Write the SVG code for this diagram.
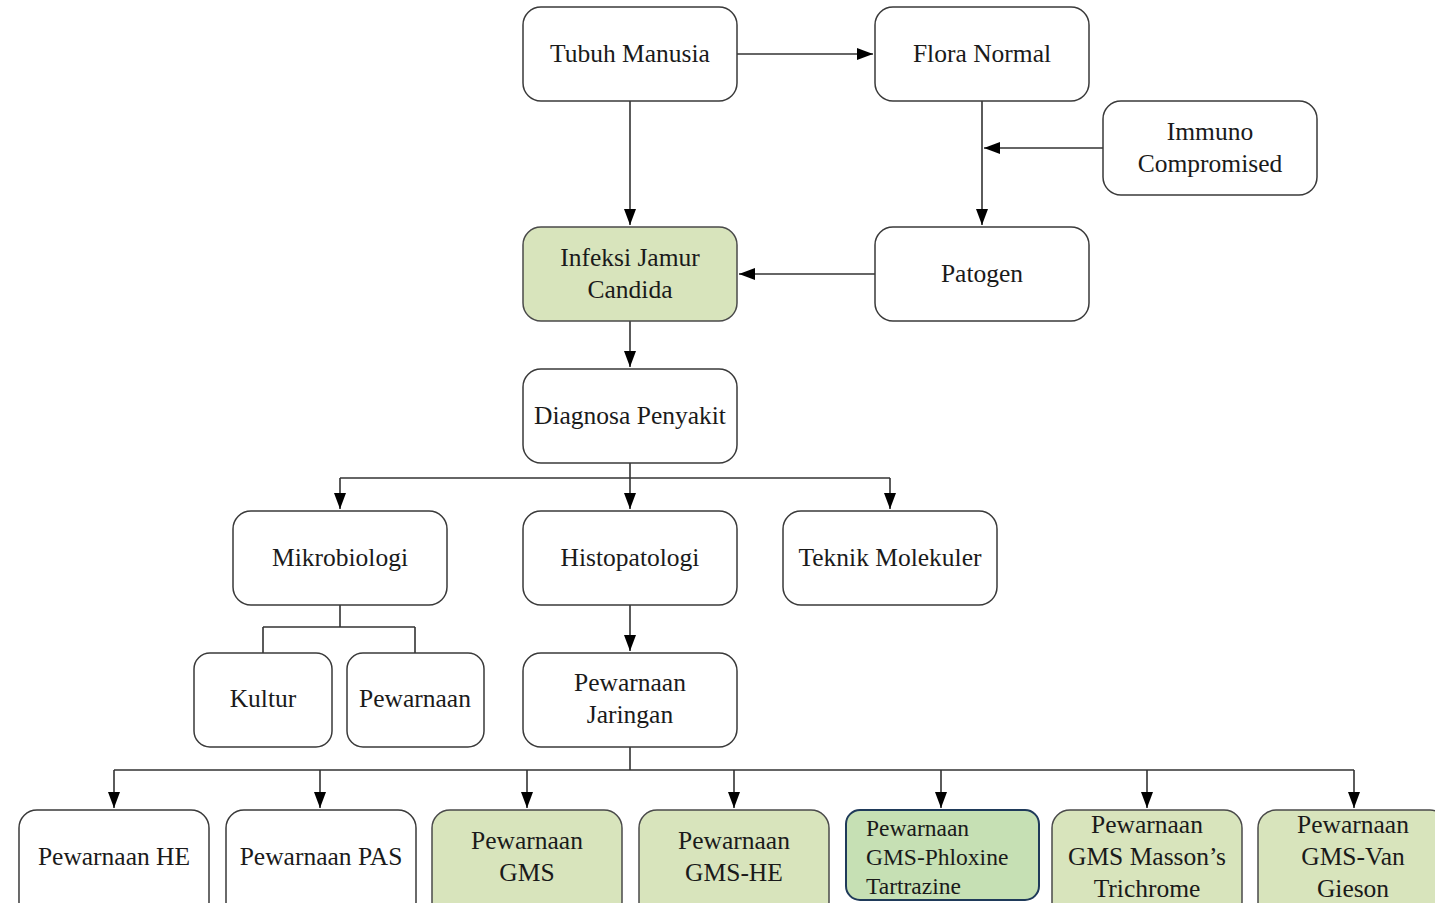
<svg xmlns="http://www.w3.org/2000/svg" width="1435" height="903" viewBox="0 0 1435 903">
<style>
.n{fill:#ffffff;stroke:#3a3a3a;stroke-width:1.5}
.g{fill:#d8e4bc;stroke:#4a4a4a;stroke-width:1.5}
.b{fill:#c6e0b4;stroke:#1f3a5a;stroke-width:2}
text{font-size:25.5px;fill:#1a1a1a;text-anchor:middle}
.l{text-anchor:start}
.c{fill:none;stroke:#333;stroke-width:1.6}
</style>
<defs>
<marker id="a" viewBox="0 0 16 12" refX="16" refY="6" markerWidth="16" markerHeight="12" markerUnits="userSpaceOnUse" orient="auto">
<path d="M0,0 L16,6 L0,12 Z" fill="#000"/>
</marker>
</defs>
<rect width="1435" height="903" fill="#fff"/>
<g id="connectors">
<path class="c" d="M737,54 H873" marker-end="url(#a)"/>
<path class="c" d="M630,101 V225" marker-end="url(#a)"/>
<path class="c" d="M982,101 V225" marker-end="url(#a)"/>
<path class="c" d="M1103,148 H984" marker-end="url(#a)"/>
<path class="c" d="M875,274 H739" marker-end="url(#a)"/>
<path class="c" d="M630,321 V367" marker-end="url(#a)"/>
<path class="c" d="M630,463 V478"/>
<path class="c" d="M340,478 H890"/>
<path class="c" d="M340,478 V509" marker-end="url(#a)"/>
<path class="c" d="M630,478 V509" marker-end="url(#a)"/>
<path class="c" d="M890,478 V509" marker-end="url(#a)"/>
<path class="c" d="M340,605 V627 M263,627 H415 M263,627 V653 M415,627 V653"/>
<path class="c" d="M630,605 V651" marker-end="url(#a)"/>
<path class="c" d="M630,747 V770 M114,770 H1354"/>
<path class="c" d="M114,770 V808" marker-end="url(#a)"/>
<path class="c" d="M320,770 V808" marker-end="url(#a)"/>
<path class="c" d="M527,770 V808" marker-end="url(#a)"/>
<path class="c" d="M734,770 V808" marker-end="url(#a)"/>
<path class="c" d="M941,770 V808" marker-end="url(#a)"/>
<path class="c" d="M1147,770 V808" marker-end="url(#a)"/>
<path class="c" d="M1354,770 V808" marker-end="url(#a)"/>
</g>
<g font-family="'Liberation Serif', serif">
<g id="tubuh"><rect class="n" x="523" y="7" width="214" height="94" rx="18"/><text x="630" y="62">Tubuh Manusia</text></g>
<g id="flora"><rect class="n" x="875" y="7" width="214" height="94" rx="18"/><text x="982" y="62">Flora Normal</text></g>
<g id="immuno"><rect class="n" x="1103" y="101" width="214" height="94" rx="18"/><text x="1210" y="140">Immuno</text><text x="1210" y="172">Compromised</text></g>
<g id="infeksi"><rect class="g" x="523" y="227" width="214" height="94" rx="18"/><text x="630" y="266">Infeksi Jamur</text><text x="630" y="298">Candida</text></g>
<g id="patogen"><rect class="n" x="875" y="227" width="214" height="94" rx="18"/><text x="982" y="282">Patogen</text></g>
<g id="diagnosa"><rect class="n" x="523" y="369" width="214" height="94" rx="18"/><text x="630" y="424">Diagnosa Penyakit</text></g>
<g id="mikro"><rect class="n" x="233" y="511" width="214" height="94" rx="18"/><text x="340" y="566">Mikrobiologi</text></g>
<g id="histo"><rect class="n" x="523" y="511" width="214" height="94" rx="18"/><text x="630" y="566">Histopatologi</text></g>
<g id="teknik"><rect class="n" x="783" y="511" width="214" height="94" rx="18"/><text x="890" y="566">Teknik Molekuler</text></g>
<g id="kultur"><rect class="n" x="194" y="653" width="138" height="94" rx="16"/><text x="263" y="707">Kultur</text></g>
<g id="pewarnaan"><rect class="n" x="347" y="653" width="137" height="94" rx="16"/><text x="415" y="707">Pewarnaan</text></g>
<g id="jaringan"><rect class="n" x="523" y="653" width="214" height="94" rx="18"/><text x="630" y="691">Pewarnaan</text><text x="630" y="723">Jaringan</text></g>
<g id="he"><rect class="n" x="19" y="810" width="190" height="110" rx="18"/><text x="114" y="865">Pewarnaan HE</text></g>
<g id="pas"><rect class="n" x="226" y="810" width="190" height="110" rx="18"/><text x="321" y="865">Pewarnaan PAS</text></g>
<g id="gms"><rect class="g" x="432" y="810" width="190" height="110" rx="18"/><text x="527" y="849">Pewarnaan</text><text x="527" y="881">GMS</text></g>
<g id="gmshe"><rect class="g" x="639" y="810" width="190" height="110" rx="18"/><text x="734" y="849">Pewarnaan</text><text x="734" y="881">GMS-HE</text></g>
<g id="phloxine"><rect class="b" x="846" y="810" width="193" height="90" rx="14"/><text class="l" x="866" y="836" style="font-size:23.5px">Pewarnaan</text><text class="l" x="866" y="865" style="font-size:23.5px">GMS-Phloxine</text><text class="l" x="866" y="894" style="font-size:23.5px">Tartrazine</text></g>
<g id="masson"><rect class="g" x="1052" y="810" width="190" height="110" rx="18"/><text x="1147" y="833">Pewarnaan</text><text x="1147" y="865">GMS Masson’s</text><text x="1147" y="897">Trichrome</text></g>
<g id="vangieson"><rect class="g" x="1258" y="810" width="190" height="110" rx="18"/><text x="1353" y="833">Pewarnaan</text><text x="1353" y="865">GMS-Van</text><text x="1353" y="897">Gieson</text></g>
</g>
</svg>
